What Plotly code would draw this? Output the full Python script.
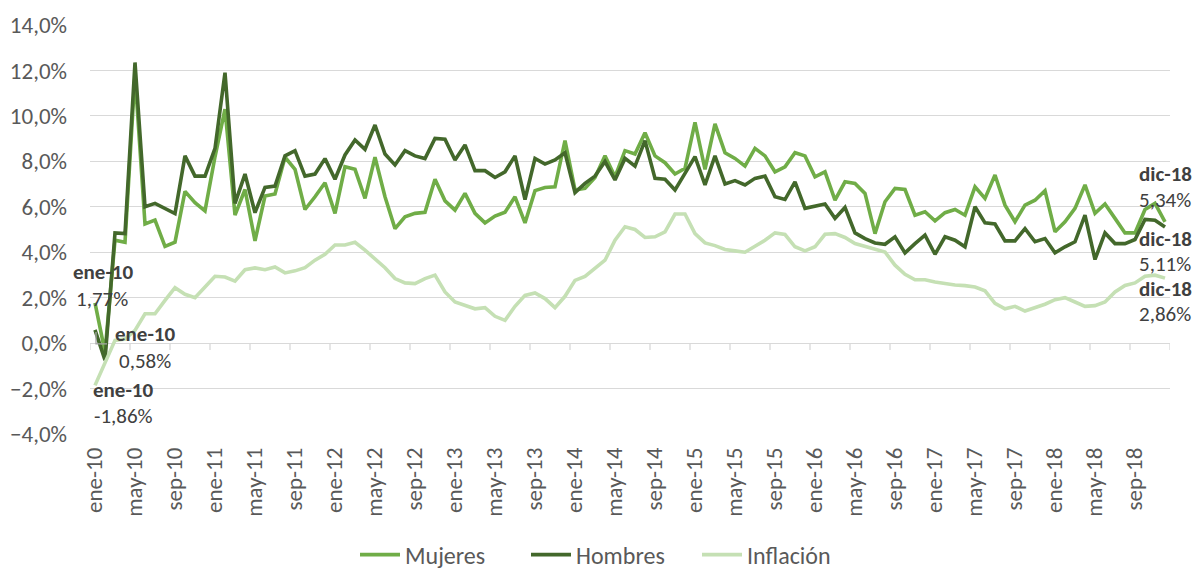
import plotly.graph_objects as go

months = ["ene", "feb", "mar", "abr", "may", "jun", "jul", "ago", "sep", "oct", "nov", "dic"]
years = ["10", "11", "12", "13", "14", "15", "16", "17", "18"]
categories = [f"{m}-{y}" for y in years for m in months]

mujeres = [
    1.77, -0.40, 4.53, 4.44, 11.80, 5.24, 5.41, 4.26, 4.44, 6.68, 6.18, 5.82, 8.20, 10.30, 5.63, 6.76, 4.50, 6.47,
    6.56, 8.18, 7.65, 5.88, 6.44, 7.06, 5.71, 7.76, 7.65, 6.37, 8.18, 6.44, 5.04, 5.56, 5.71, 5.76, 7.21, 6.26,
    5.85, 6.59, 5.71, 5.29, 5.59, 5.76, 6.44, 5.29, 6.71, 6.85, 6.88, 8.91, 6.74, 6.81, 7.29, 8.24, 7.32, 8.47,
    8.32, 9.26, 8.24, 7.94, 7.44, 7.69, 9.71, 7.65, 9.65, 8.38, 8.13, 7.79, 8.57, 8.24, 7.54, 7.76, 8.38, 8.24,
    7.32, 7.54, 6.29, 7.10, 7.03, 6.59, 4.82, 6.22, 6.81, 6.76, 5.63, 5.78, 5.38, 5.74, 5.88, 5.63, 6.88, 6.37,
    7.40, 6.07, 5.34, 6.07, 6.29, 6.71, 4.90, 5.34, 5.93, 6.96, 5.71, 6.12, 5.49, 4.85, 4.85, 5.88, 6.15, 5.34,
]
hombres = [
    0.58, -0.75, 4.85, 4.82, 12.35, 6.00, 6.15, 5.93, 5.70, 8.24, 7.35, 7.35, 8.57, 11.90, 6.15, 7.44, 5.74, 6.85,
    6.91, 8.24, 8.47, 7.35, 7.44, 8.12, 7.21, 8.28, 8.94, 8.53, 9.60, 8.32, 7.84, 8.47, 8.24, 8.12, 9.01, 8.97,
    8.06, 8.72, 7.59, 7.59, 7.29, 7.54, 8.24, 6.32, 8.13, 7.88, 8.06, 8.38, 6.62, 7.03, 7.35, 7.99, 7.18, 8.13,
    7.79, 8.91, 7.25, 7.21, 6.74, 7.47, 8.21, 6.96, 8.24, 7.00, 7.15, 6.96, 7.25, 7.35, 6.44, 6.32, 7.10, 5.93,
    6.03, 6.12, 5.49, 5.97, 4.85, 4.60, 4.41, 4.35, 4.68, 3.97, 4.38, 4.75, 3.91, 4.68, 4.53, 4.24, 6.00, 5.29,
    5.24, 4.50, 4.50, 5.04, 4.46, 4.60, 3.97, 4.24, 4.46, 5.63, 3.68, 4.85, 4.38, 4.38, 4.56, 5.44, 5.41, 5.11,
]
inflacion = [
    -1.86, -0.90, 0.12, 0.18, 0.56, 1.29, 1.29, 1.88, 2.44, 2.15, 2.00, 2.47, 2.94, 2.91, 2.73, 3.23, 3.31, 3.23,
    3.35, 3.09, 3.18, 3.32, 3.65, 3.91, 4.32, 4.32, 4.44, 4.09, 3.72, 3.32, 2.84, 2.65, 2.62, 2.84, 2.99, 2.25,
    1.81, 1.66, 1.51, 1.56, 1.18, 1.00, 1.62, 2.10, 2.21, 1.96, 1.56, 2.06, 2.76, 2.94, 3.28, 3.65, 4.53, 5.12,
    5.00, 4.65, 4.68, 4.90, 5.68, 5.68, 4.82, 4.41, 4.29, 4.12, 4.06, 4.00, 4.26, 4.53, 4.85, 4.78, 4.24, 4.06,
    4.24, 4.79, 4.82, 4.65, 4.38, 4.26, 4.16, 4.01, 3.43, 3.03, 2.79, 2.79, 2.69, 2.62, 2.56, 2.53, 2.47, 2.30,
    1.75, 1.51, 1.62, 1.41, 1.56, 1.71, 1.91, 2.00, 1.81, 1.62, 1.65, 1.81, 2.25, 2.54, 2.65, 2.94, 2.99, 2.86,
]

series = [
    ("Mujeres", mujeres, "#70AD47"),
    ("Hombres", hombres, "#43682B"),
    ("Inflación", inflacion, "#C5E0B4"),
]

FONT = "Calibri, Carlito, Lato, sans-serif"
AX_SIZE = 23
LEG_SIZE = 24
LBL_SIZE = 21

fig = go.Figure()
for name, vals, color in series:
    fig.add_trace(go.Scatter(
        x=categories, y=vals, name=name, mode="lines",
        line=dict(color=color, width=3.6),
        hovertemplate="%{x}: %{y:.2f}%<extra>" + name + "</extra>",
    ))

def fmt(v):
    return f"{v:.2f}".replace(".", ",") + "%"

# (series values, index, line1 shift, line2 shift)
label_specs = [
    (mujeres, 0, (8, 31), (7, 4)),
    (hombres, 0, (50, -4), (50, -31)),
    (inflacion, 0, (28, -5), (28, -31)),
    (mujeres, -1, (0, 48), (0, 22)),
    (hombres, -1, (0, -12), (0, -37)),
    (inflacion, -1, (0, -11), (0, -36)),
]
annotations = []
for vals, idx, s1, s2 in label_specs:
    cat = categories[idx]
    val = vals[idx]
    annotations.append(dict(x=cat, y=val, xref="x", yref="y", text=f"<b>{cat}</b>",
                            showarrow=False, xanchor="center", yanchor="middle",
                            xshift=s1[0], yshift=s1[1],
                            font=dict(family=FONT, size=LBL_SIZE, color="#404040")))
    annotations.append(dict(x=cat, y=val, xref="x", yref="y", text=fmt(val),
                            showarrow=False, xanchor="center", yanchor="middle",
                            xshift=s2[0], yshift=s2[1],
                            font=dict(family=FONT, size=LBL_SIZE, color="#404040")))

# tick marks on the category axis (which crosses at 0%)
shapes = []
for k in range(0, len(categories) + 1, 4):
    shapes.append(dict(type="line", xref="x", yref="y", x0=k - 0.5, x1=k - 0.5,
                       ysizemode="pixel", yanchor=0, y0=0, y1=-7,
                       line=dict(color="#D9D9D9", width=1.3), layer="below"))
# small leader line of the first Hombres label
shapes.append(dict(type="path", xref="x", yref="y",
                   xsizemode="pixel", xanchor=categories[0],
                   ysizemode="pixel", yanchor=hombres[0],
                   path="M 1,-2 L 1,-14 L 12,-14",
                   line=dict(color="#A6A6A6", width=1.3)))

fig.update_layout(
    width=1195, height=571,
    margin=dict(l=90, r=25, t=25, b=137, autoexpand=False),
    paper_bgcolor="white", plot_bgcolor="white",
    font=dict(family=FONT, color="#595959", size=AX_SIZE),
    separators=",.",
    showlegend=True,
    legend=dict(orientation="h", xref="container", yref="container",
                x=355 / 1195, y=1 - 555 / 571, xanchor="left", yanchor="middle",
                font=dict(family=FONT, size=LEG_SIZE, color="#595959"),
                entrywidth=116, entrywidthmode="pixels",
                itemwidth=40, tracegroupgap=0, bgcolor="rgba(0,0,0,0)"),
    annotations=annotations,
    shapes=shapes,
    hovermode="closest",
)
fig.update_xaxes(
    type="category", categoryorder="array", categoryarray=categories,
    range=[-0.5, len(categories) - 0.5], automargin=False,
    tickmode="linear", tick0=0, dtick=4,
    tickangle=-90, showgrid=False, showline=False, zeroline=False,
    ticks="", ticklabelstandoff=8,
    tickfont=dict(family=FONT, size=AX_SIZE, color="#595959"),
)
fig.update_yaxes(
    range=[-4, 14], tickmode="linear", tick0=-4, dtick=2, automargin=False,
    tickformat=".1f", ticksuffix="%",
    showgrid=True, gridcolor="#D9D9D9", gridwidth=1.3,
    zeroline=True, zerolinecolor="#D9D9D9", zerolinewidth=1.3,
    showline=False, ticks="", ticklabelstandoff=22,
    tickfont=dict(family=FONT, size=AX_SIZE, color="#595959"),
)

fig.write_html(
    "out.html",
    config={"displayModeBar": False},
    post_script="document.body.style.margin='0';document.body.style.overflow='hidden';",
)
